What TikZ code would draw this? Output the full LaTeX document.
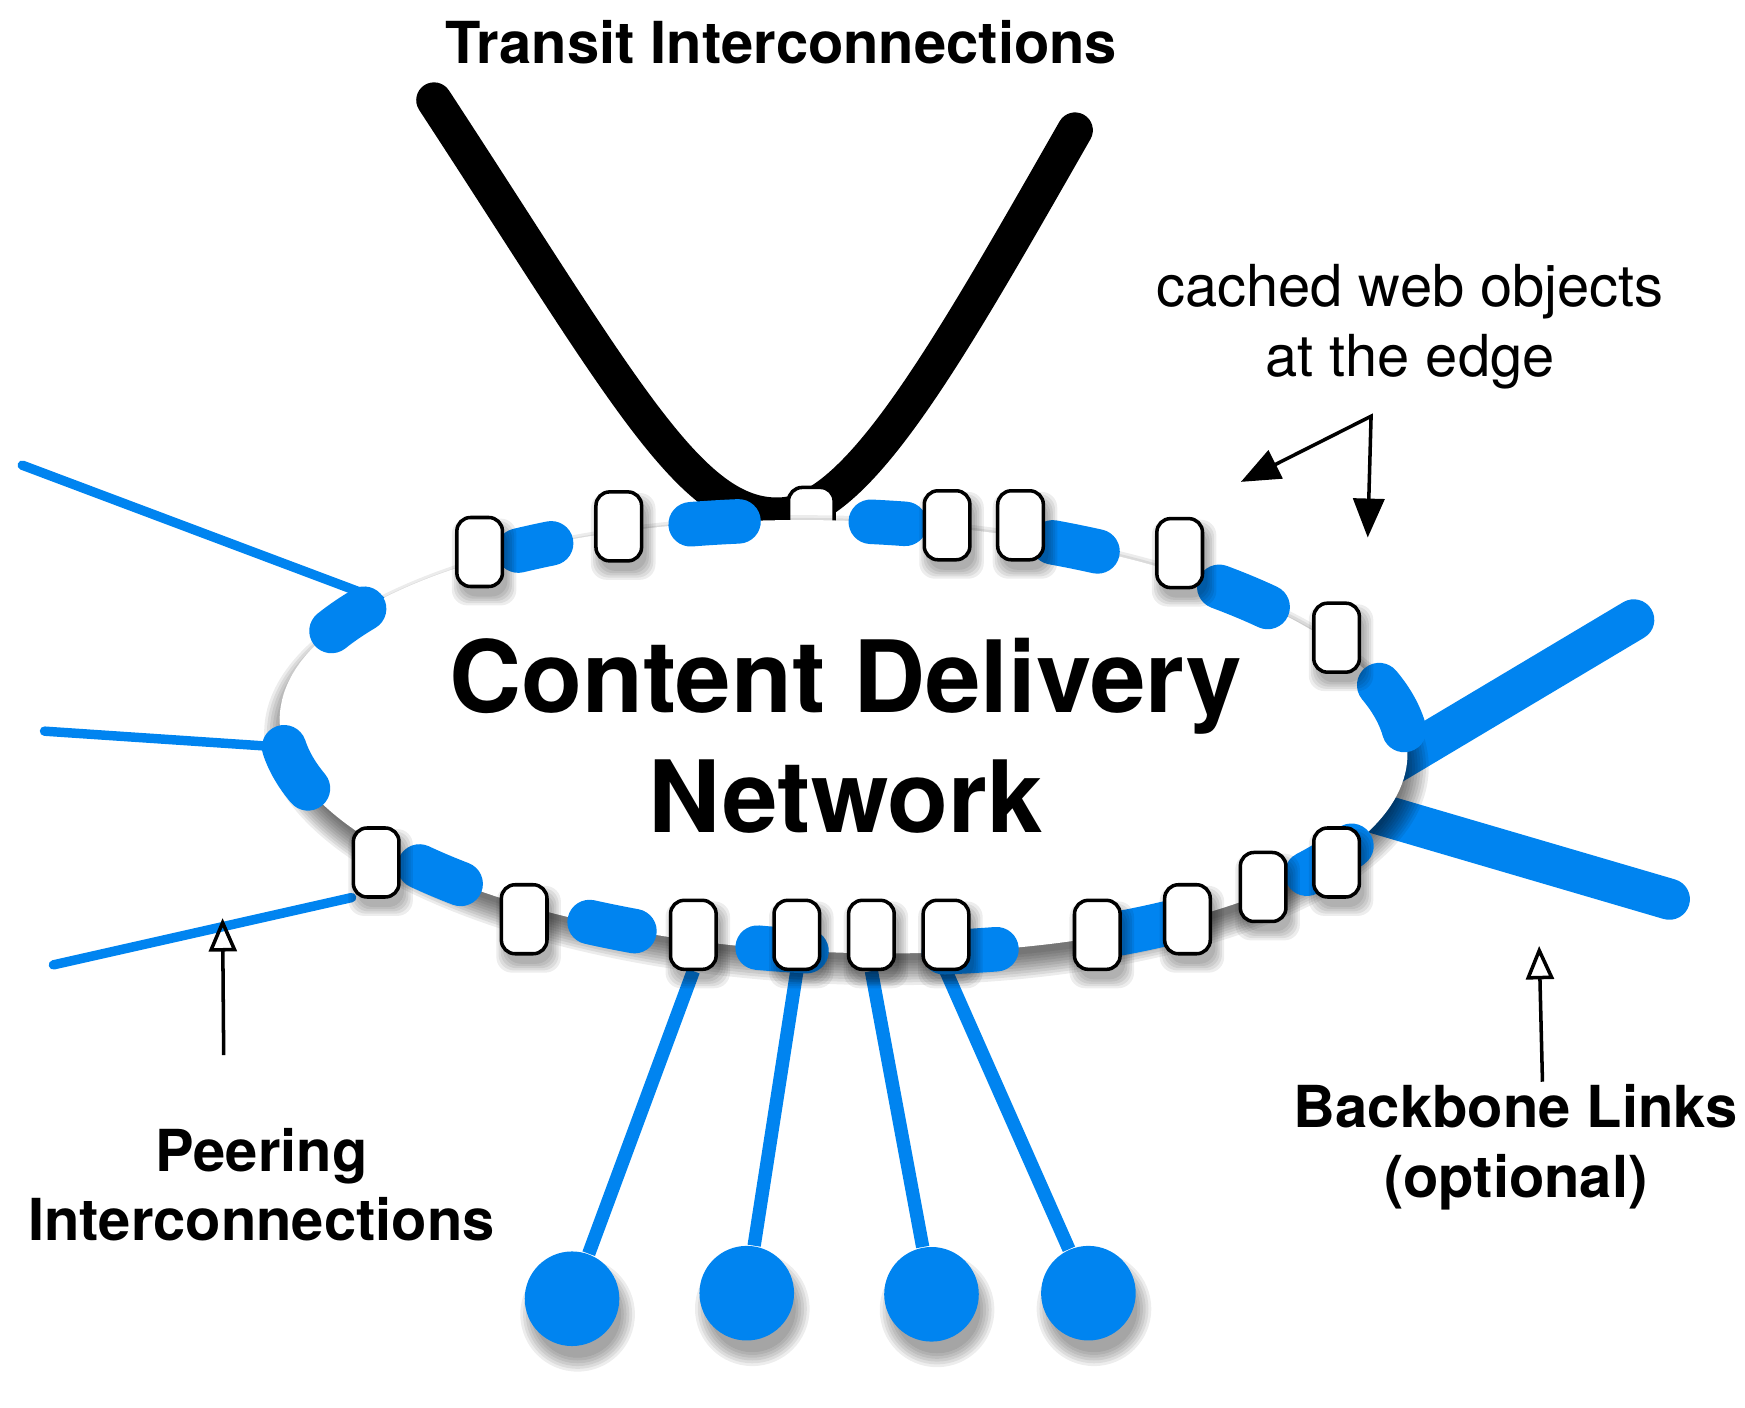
\documentclass[tikz,border=0pt]{standalone}
\usepackage{fontspec}
\setmainfont{TeX Gyre Heros}
\usetikzlibrary{arrows.meta,calc,backgrounds}
\definecolor{cdnBlue}{RGB}{0,132,240}
\tikzset{
  >={Triangle[length=3.5mm, width=2.8mm]},
  cache/.style = {draw, line width=0.9pt, fill=white, rounded corners=3.5pt, minimum width=4.1mm, minimum height=6.2mm, inner sep=0pt},
  isp/.style = {circle, fill=cdnBlue, minimum size=8.5mm, inner sep=0pt},
  rimDash/.style = {draw=cdnBlue, line width=4mm, line cap=round},
  transit/.style = {draw=black, line width=3.2mm, line cap=round},
  backbone/.style = {draw=cdnBlue, line width=3.7mm, line cap=round},
  peering/.style = {draw=cdnBlue, line width=0.85mm, line cap=round},
  access/.style = {draw=cdnBlue, line width=1.2mm},
  pointer/.style = {line width=0.9pt},
  openPointer/.style = {-{Triangle[open, length=3mm, width=2.5mm]}, line width=0.9pt},
  annot/.style = {font=\fontsize{14.8}{17.8}\selectfont, align=center, anchor=base, inner sep=0pt},
  annotBold/.style = {annot, font=\fontsize{14.8}{17.8}\selectfont\bfseries},
  cdnText/.style = {font=\fontsize{25.5}{30.7}\selectfont\bfseries, align=center, anchor=base, inner sep=0pt},
}
\newcommand{\boxShadow}[2]{
  \foreach \s in {0,0.02,...,0.1} {
    \fill[black, opacity=0.07, rounded corners=4pt]
      ($(#1,#2)+(0.04,-0.09)+(-0.21-\s,-0.31-\s)$) rectangle ($(#1,#2)+(0.04,-0.09)+(0.21+\s,0.31+\s)$);
  }
}
\newcommand{\ispShadow}[2]{
  \foreach \s in {0,0.025,...,0.125} {
    \fill[black, opacity=0.07] ($(#1,#2)+(0.05,-0.14)$) circle[radius=0.39+\s];
  }
}

\begin{document}
\begin{tikzpicture}
  \useasboundingbox (0,0) rectangle (15.68,-12.65);

  \def\cx{7.58}
  \def\cy{-6.62}
  \def\ea{5.07}
  \def\eb{1.94}

  \def\topCaches{4.31/-4.96, 5.56/-4.73, 8.51/-4.72, 9.17/-4.72, 10.60/-4.97, 12.01/-5.73}
  \def\botCaches{3.38/-7.75, 4.71/-8.26, 6.23/-8.40, 7.16/-8.40, 7.83/-8.40, 8.50/-8.40, 9.86/-8.40, 10.67/-8.26, 11.35/-7.97, 12.01/-7.75}
  \def\isps{5.14/-11.67, 6.71/-11.62, 8.37/-11.63, 9.78/-11.62}

  % ----------------------------------------------------------------------
  % CDN cloud with its rim of links
  % ----------------------------------------------------------------------
  \begin{scope}[shift={(\cx,\cy)}, rotate=-2]
    \foreach \s in {-0.06,-0.035,...,0.165} {
      \fill[black, opacity=0.075] (0.03,-0.12) ellipse[x radius=\ea+\s, y radius=\eb+\s];
    }
    \fill[white] (0,0) ellipse[x radius=\ea, y radius=\eb];
    \foreach \ta/\tb in {7/19, 42/49, 64/69, 84.5/88, 101.5/106.5, 122/126, 149/156, 188/199, 222/228, 244/249, 262/267, 281/286.5, 300/307, 326/335} {
      \draw[rimDash] ({\ea*cos(\ta)},{\eb*sin(\ta)}) arc[start angle=\ta, end angle=\tb, x radius=\ea, y radius=\eb];
    }
    \coordinate (rimUL) at ({\ea*cos(146)},{\eb*sin(146)});
    \coordinate (rimL) at ({\ea*cos(188)},{\eb*sin(188)});
  \end{scope}

  % ----------------------------------------------------------------------
  % Edge caches
  % ----------------------------------------------------------------------
  \foreach \x/\y in \topCaches { \boxShadow{\x}{\y} }
  \foreach \x/\y in \botCaches { \boxShadow{\x}{\y} }
  \foreach \x/\y [count=\i] in \topCaches { \node[cache] (top\i) at (\x,\y) {}; }
  \foreach \x/\y [count=\i] in \botCaches { \node[cache] (bot\i) at (\x,\y) {}; }

  % Access networks
  \foreach \x/\y [count=\i] in \isps {
    \ispShadow{\x}{\y}
    \node[isp] (isp\i) at (\x,\y) {};
  }

  % ----------------------------------------------------------------------
  % Labels and pointers (base = baseline of the last line)
  % ----------------------------------------------------------------------
  \node[annotBold] (transitLabel) at (7.02,-0.57) {Transit Interconnections};
  \node[annot] (cacheLabel) at (12.67,-3.38) {cached web objects\\at the edge};
  \node[cdnText] (cdnLabel) at (7.60,-7.48) {Content Delivery\\Network};
  \node[annotBold] (peerLabel) at (2.35,-11.15) {Peering\\Interconnections};
  \node[annotBold] (backboneLabel) at (13.62,-10.76) {Backbone Links\\(optional)};

  \coordinate (cacheFork) at (12.32,-3.74);
  \coordinate (cacheTipA) at (11.15,-4.33);
  \coordinate (cacheTipB) at (12.29,-4.83);
  \draw[pointer, <->] (cacheTipA) -- (cacheFork) -- (cacheTipB);

  \coordinate (peerFoot) at (2.01,-9.48);
  \coordinate (peerTip) at (2.00,-8.25);
  \draw[openPointer] (peerFoot) -- (peerTip);

  \coordinate (backboneFoot) at (13.86,-9.72);
  \coordinate (backboneTip) at (13.83,-8.50);
  \draw[openPointer] (backboneFoot) -- (backboneTip);

  % ----------------------------------------------------------------------
  % Links running behind the cloud
  % ----------------------------------------------------------------------
  \begin{scope}[on background layer]
    \coordinate (transitL) at (3.90,-0.90);
    \coordinate (transitR) at (9.66,-1.17);
    \draw[transit] (transitL) .. controls (5.60,-3.50) and (6.20,-4.65) .. (7.00,-4.63)
      .. controls (7.70,-4.62) and (8.50,-3.20) .. (transitR);
    \node[cache] (hub) at (7.29,-4.69) {};

    \coordinate (bbInA) at (12.40,-6.93);
    \coordinate (bbOutA) at (14.68,-5.57);
    \coordinate (bbInB) at (12.00,-7.20);
    \coordinate (bbOutB) at (15.00,-8.08);
    \draw[backbone] (bbInA) -- (bbOutA);
    \draw[backbone] (bbInB) -- (bbOutB);

    \coordinate (peerA) at (0.20,-4.18);
    \coordinate (peerB) at (0.40,-6.57);
    \coordinate (peerC) at (0.48,-8.67);
    \draw[peering] (peerA) -- (rimUL);
    \draw[peering] (peerB) -- (rimL);
    \draw[peering] (peerC) -- (bot1.-125);

    \foreach \i/\j in {3/1, 4/2, 5/3, 6/4} {
      \draw[access] (bot\i.south) -- (isp\j);
    }
  \end{scope}

\end{tikzpicture}
\end{document}
